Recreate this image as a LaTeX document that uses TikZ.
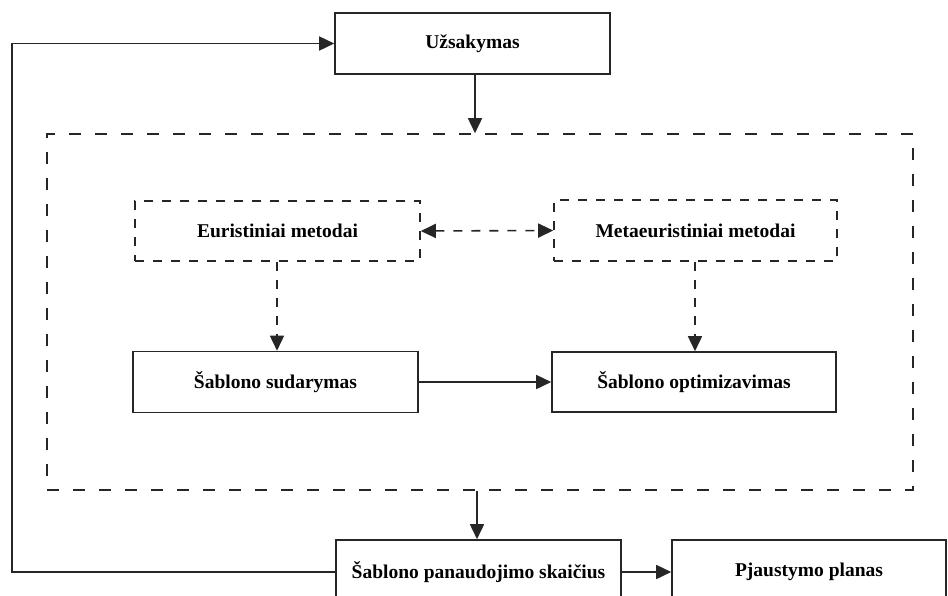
\documentclass[tikz,border=0pt]{standalone}
\usepackage{fontspec}
\setmainfont{Liberation Serif}
\usetikzlibrary{arrows.meta}
\begin{document}
\begin{tikzpicture}[x=1pt,y=-1pt,
  every node/.style={font=\fontsize{19.5}{22}\selectfont\bfseries, inner sep=0pt},
  solidbox/.style={draw=black!85, line width=1.6pt, rectangle},
  dashbox/.style={draw=black!85, line width=1.6pt, rectangle, dash pattern=on 9pt off 9pt},
  outerbox/.style={draw=black!85, line width=1.6pt, rectangle, dash pattern=on 12pt off 14pt},
  conn/.style={draw=black!85, line width=1.6pt, -{Triangle[length=15pt,width=14pt]}},
  dconn/.style={conn, dash pattern=on 9pt off 9pt},
  ddconn/.style={dconn, {Triangle[length=15pt,width=14pt]}-{Triangle[length=15pt,width=14pt]}}
]
\useasboundingbox (0,0) rectangle (948,595);
\fill[white] (0,0) rectangle (948,595);
\clip (0,0) rectangle (948,595);

\node[solidbox, minimum width=275pt, minimum height=61pt] (uz) at (472.5,43.5) {Užsakymas};
\node[outerbox, minimum width=866pt, minimum height=356pt] (outer) at (480,312) {};
\node[dashbox, minimum width=285pt, minimum height=60pt] (eu) at (277.5,231) {Euristiniai metodai};
\node[dashbox, minimum width=283pt, minimum height=61pt] (me) at (695.5,230.5) {Metaeuristiniai metodai};
\node[solidbox, minimum width=285pt, minimum height=61pt] (ss) at (275.5,382) {Šablono sudarymas};
\node[solidbox, minimum width=284pt, minimum height=60pt] (so) at (694,382) {Šablono optimizavimas};
\node[solidbox, minimum width=285pt, minimum height=64pt] (pan) at (478.5,572) {Šablono panaudojimo skaičius};
\node[solidbox, minimum width=274pt, minimum height=64pt] (pj) at (809,572) {Pjaustymo planas};
\coordinate (fb) at (12,572);

\draw[conn] (uz.south -| 475,0) -- (outer.north -| 475,0);
\draw[conn] (pan.west) -- (fb) |- (uz.west);
\draw[ddconn] (eu.east) -- (me.west);
\draw[dconn] (eu.south -| 277,0) -- (ss.north -| 277,0);
\draw[dconn] (me.south -| 695,0) -- (so.north -| 695,0);
\draw[conn] (ss.east) -- (so.west);
\draw[conn] (outer.south -| 477,0) -- (pan.north -| 477,0);
\draw[conn] (pan.east) -- (pj.west);
\end{tikzpicture}
\end{document}
